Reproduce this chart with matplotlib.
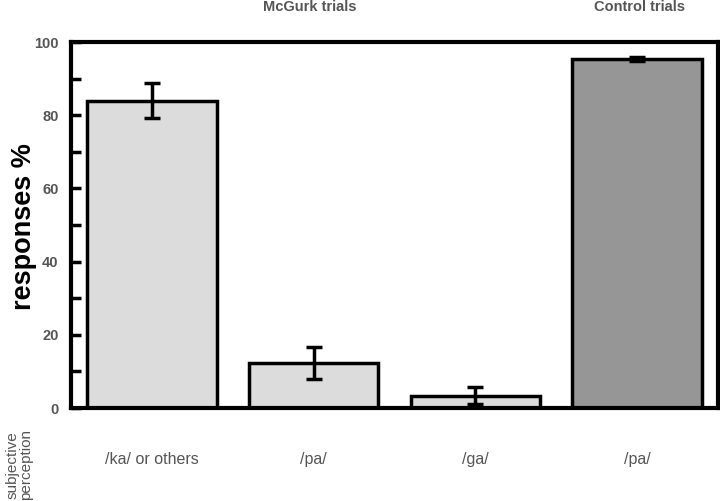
import numpy as np
import matplotlib.pyplot as plt

plt.rcParams['font.family'] = ['Liberation Sans', 'DejaVu Sans']

categories = ['/ka/ or others', '/pa/', '/ga/', '/pa/']
values = [84.0, 12.2, 3.4, 95.3]
errors = [4.8, 4.4, 2.3, 0.6]
colors = ['#dcdcdc', '#dcdcdc', '#dcdcdc', '#969696']
gris = '#555555'

fig = plt.figure(figsize=(7.2, 5.01), dpi=100)
ax = fig.add_axes([71/720, 1 - 408/501, 647/720, 366/501])

x = np.arange(len(categories))
ax.bar(x, values, width=0.8, color=colors, edgecolor='black', linewidth=2.5)
ax.errorbar(x, values, yerr=errors, fmt='none', ecolor='black',
            elinewidth=2.5, capsize=6, capthick=2.5)

ax.set_xlim(-0.5, 3.5)
ax.set_ylim(0, 100)
for s in ax.spines.values():
    s.set_linewidth(3)

ax.set_yticks(np.arange(0, 101, 20))
ax.set_yticks(np.arange(10, 100, 20), minor=True)
ax.tick_params(axis='y', which='both', direction='in', length=7, width=2.5,
               labelsize=10.5, labelcolor=gris, pad=9)
ax.set_xticks([])
for lbl in ax.get_yticklabels():
    lbl.set_fontweight('bold')

ax.set_ylabel('responses %', fontsize=19.5, fontweight='bold')
ax.yaxis.label.set_va('center')
ax.yaxis.set_label_coords(-47/647, 0.495)

for i, c in enumerate(categories):
    ax.text(x[i], -14, c, ha='center', va='center', fontsize=11.5, color=gris)

fig.text(310/720, 1 - 7/501, 'McGurk trials', ha='center', va='center',
         fontsize=10.5, fontweight='bold', color=gris)
fig.text(640/720, 1 - 7/501, 'Control trials', ha='center', va='center',
         fontsize=10.5, fontweight='bold', color=gris)
fig.text(19/720, 1 - 465/501, 'subjective\nperception', rotation=90,
         ha='center', va='center', fontsize=11, color=gris, linespacing=0.95)

fig.savefig('out.png', dpi=100)
